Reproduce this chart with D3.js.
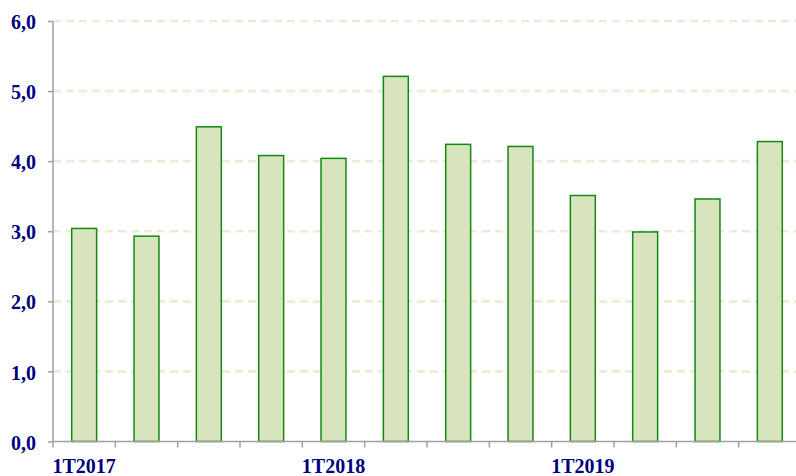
<!DOCTYPE html>
<html>
<head>
<meta charset="utf-8">
<script src="https://cdn.jsdelivr.net/npm/d3@7"></script>
<style>
  body { margin: 0; background: #fff; }
  svg { display: block; }
  text { font-family: "Liberation Serif", "Times New Roman", serif; font-weight: bold; fill: #000080; }
</style>
</head>
<body>
<svg id="chart" width="796" height="476"></svg>
<script>
// trimestres
let categories = ["1T2017", "2T2017", "3T2017", "4T2017",
                  "1T2018", "2T2018", "3T2018", "4T2018",
                  "1T2019", "2T2019", "3T2019", "4T2019"];
let values = [3.04, 2.93, 4.49, 4.08, 4.04, 5.21, 4.24, 4.21, 3.51, 2.99, 3.46, 4.28];
let yTicks = [0, 1, 2, 3, 4, 5, 6];

let svg = d3.select("#chart");
let width = 796, height = 476;
let plotLeft = 53, plotRight = 801, plotTop = 21, plotBottom = 441.5;

let x = d3.scaleBand()
    .domain(categories)
    .range([plotLeft, plotRight])
    .paddingInner(0.6)
    .paddingOuter(0.3);

let y = d3.scaleLinear()
    .domain([0, 6])
    .range([plotBottom, plotTop]);

let fmt = v => d3.format(".1f")(v).replace(".", ",");

// grid lines (dashed)
svg.append("g")
    .selectAll("line")
    .data(yTicks.filter(t => t > 0))
    .join("line")
    .attr("x1", plotLeft)
    .attr("x2", width)
    .attr("y1", d => y(d))
    .attr("y2", d => y(d))
    .attr("stroke", "#ebebd8")
    .attr("stroke-width", 2.6)
    .attr("stroke-dasharray", "8,5");

// bars
svg.append("g")
    .selectAll("rect")
    .data(values)
    .join("rect")
    .attr("x", (d, i) => x(categories[i]))
    .attr("y", d => y(d))
    .attr("width", x.bandwidth())
    .attr("height", d => y(0) - y(d))
    .attr("fill", "#d7e4bd")
    .attr("stroke", "#118a11")
    .attr("stroke-width", 1.5);

// y axis
let yAxis = svg.append("g")
    .attr("transform", `translate(${plotLeft},0)`)
    .call(d3.axisLeft(y).tickValues(yTicks).tickSize(5).tickPadding(12).tickFormat(fmt));
yAxis.attr("font-family", null).attr("font-size", null);
yAxis.select(".domain").attr("stroke", "#a0a0a0").attr("stroke-width", 1.5).attr("d", `M0,${plotTop}V${plotBottom}`);
yAxis.selectAll(".tick line").attr("stroke", "#a0a0a0").attr("stroke-width", 1.5);
yAxis.selectAll(".tick text")
    .attr("font-size", 20)
    .attr("fill", "#000080")
    .attr("dy", "0.38em");

// x axis line
svg.append("line")
    .attr("x1", plotLeft)
    .attr("x2", width)
    .attr("y1", plotBottom)
    .attr("y2", plotBottom)
    .attr("stroke", "#a0a0a0")
    .attr("stroke-width", 1.5);

// x ticks at band boundaries
svg.append("g")
    .selectAll("line")
    .data(categories)
    .join("line")
    .attr("x1", d => x(d) - x.step() * 0.3)
    .attr("x2", d => x(d) - x.step() * 0.3)
    .attr("y1", plotBottom)
    .attr("y2", plotBottom + 6)
    .attr("stroke", "#a0a0a0")
    .attr("stroke-width", 1.5);

// x labels (only 1T)
svg.append("g")
    .selectAll("text")
    .data(categories.filter(c => c.startsWith("1T")))
    .join("text")
    .attr("x", d => x(d) + x.bandwidth() / 2)
    .attr("y", 473)
    .attr("text-anchor", "middle")
    .attr("font-size", 20)
    .text(d => d);
</script>
</body>
</html>
